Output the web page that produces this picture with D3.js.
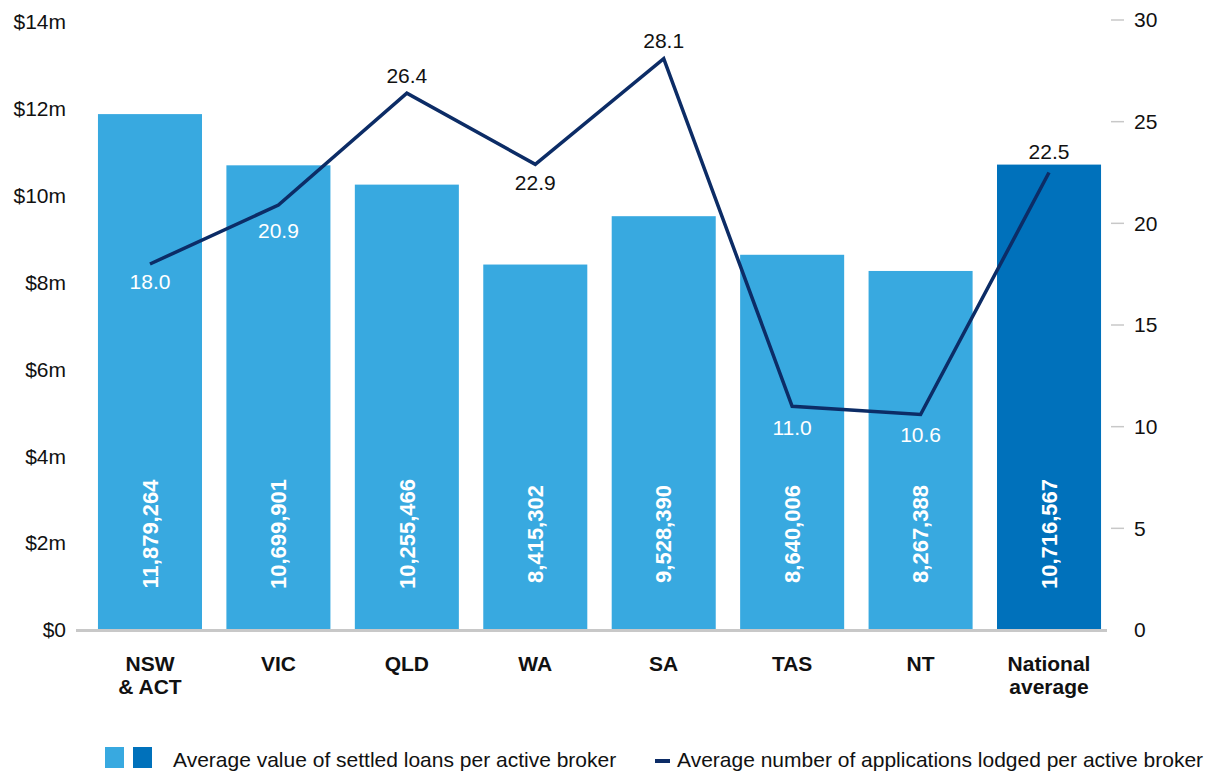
<!DOCTYPE html>
<html>
<head>
<meta charset="utf-8">
<script src="https://cdn.jsdelivr.net/npm/d3@7"></script>
<style>
  body { margin: 0; background: #fff; }
  svg { display: block; font-family: "Liberation Sans", Arial, sans-serif; }
</style>
</head>
<body>
<div id="graph"></div>
<script>
// chart data
var regions = [["NSW", "& ACT"], ["VIC"], ["QLD"], ["WA"], ["SA"], ["TAS"], ["NT"], ["National", "average"]];
var loanValues = [11879264, 10699901, 10255466, 8415302, 9528390, 8640006, 8267388, 10716567];
var applications = [18.0, 20.9, 26.4, 22.9, 28.1, 11.0, 10.6, 22.5];
var leftTicks = [0, 2e6, 4e6, 6e6, 8e6, 10e6, 12e6, 14e6];
var rightTicks = [0, 5, 10, 15, 20, 25, 30];
var legendLabels = ["Average value of settled loans per active broker", "Average number of applications lodged per active broker"];

var width = 1219;
var height = 774;
var lightBlue = "#38a9e0";
var darkBlue = "#0071bb";
var navy = "#0c2c66";
var fontSize = 21;

var svg = d3.select("#graph").
append("svg").
attr("width", width).
attr("height", height);

var keys = regions.map(function (r) {return r.join(" ");});

var x = d3.scaleBand().
domain(keys).
range([76, 1123]).
paddingInner(0.19).
paddingOuter(0.171);

var yLeft = d3.scaleLinear().domain([0, 14e6]).range([630, 22]);
var yRight = d3.scaleLinear().domain([0, 30]).range([630, 20]);

// left axis labels
svg.append("g").
selectAll("text").
data(leftTicks).
enter().
append("text").
attr("x", 66).
attr("y", function (d) {return yLeft(d);}).
attr("dy", "0.35em").
attr("text-anchor", "end").
attr("font-size", fontSize).
attr("fill", "#111").
text(function (d) {return "$" + d / 1e6 + (d === 0 ? "" : "m");});

// right axis ticks and labels
var rt = svg.append("g").
selectAll("g").
data(rightTicks).
enter().
append("g").
attr("transform", function (d) {return "translate(0," + yRight(d) + ")";});

rt.filter(function (d) {return d !== 0;}).
append("line").
attr("x1", 1111).
attr("x2", 1124).
attr("stroke", "#c8c8c8").
attr("stroke-width", 1.5);

rt.append("text").
attr("x", 1134).
attr("dy", "0.35em").
attr("font-size", fontSize).
attr("fill", "#111").
text(function (d) {return d;});

// bars
var bar = svg.append("g").
selectAll("g").
data(loanValues).
enter().
append("g");

bar.append("rect").
attr("x", function (d, i) {return x(keys[i]);}).
attr("y", function (d) {return yLeft(d);}).
attr("width", x.bandwidth()).
attr("height", function (d) {return yLeft(0) - yLeft(d);}).
attr("fill", function (d, i) {return i === loanValues.length - 1 ? darkBlue : lightBlue;});

bar.append("text").
attr("transform", function (d, i) {return "translate(" + (x(keys[i]) + x.bandwidth() / 2) + ",534) rotate(-90)";}).
attr("text-anchor", "middle").
attr("dy", "0.35em").
attr("font-size", 22).
attr("font-weight", "bold").
attr("fill", "#fff").
text(function (d) {return d3.format(",")(d);});

// baseline
svg.append("line").
attr("x1", 76).
attr("x2", 1107).
attr("y1", 630.5).
attr("y2", 630.5).
attr("stroke", "#c8c8c8").
attr("stroke-width", 3);

// category labels
svg.append("g").
selectAll("text").
data(regions).
enter().
append("text").
attr("x", function (d, i) {return x(keys[i]) + x.bandwidth() / 2;}).
attr("y", 671).
attr("text-anchor", "middle").
attr("font-size", fontSize).
attr("font-weight", "bold").
attr("fill", "#111").
selectAll("tspan").
data(function (d) {return d;}).
enter().
append("tspan").
attr("x", function () {return d3.select(this.parentNode).attr("x");}).
attr("dy", function (d, i) {return i === 0 ? 0 : 23;}).
text(function (d) {return d;});

// line
var line = d3.line().
x(function (d, i) {return x(keys[i]) + x.bandwidth() / 2;}).
y(function (d) {return yRight(d);});

svg.append("path").
datum(applications).
attr("d", line).
attr("fill", "none").
attr("stroke", navy).
attr("stroke-width", 3.5).
attr("stroke-linejoin", "miter");

// line value labels, offset above (negative) or below (positive) the point
var labelOffset = [18, 26, -18, 18, -18, 21, 20, -21];

svg.append("g").
selectAll("text").
data(applications).
enter().
append("text").
attr("x", function (d, i) {return x(keys[i]) + x.bandwidth() / 2;}).
attr("y", function (d, i) {return yRight(d) + labelOffset[i];}).
attr("dy", "0.35em").
attr("text-anchor", "middle").
attr("font-size", fontSize).
attr("fill", function (d, i) {
  var ly = yRight(d) + labelOffset[i];
  return ly - 8 > yLeft(loanValues[i]) ? "#fff" : "#111";
}).
text(function (d) {return d3.format(".1f")(d);});

// legend
var legend = svg.append("g");

legend.selectAll("rect").
data([lightBlue, darkBlue]).
enter().
append("rect").
attr("x", function (d, i) {return 105 + i * 28;}).
attr("y", 747).
attr("width", 19).
attr("height", 21).
attr("fill", function (d) {return d;});

legend.append("text").
attr("x", 173).
attr("y", 760).
attr("dy", "0.35em").
attr("font-size", fontSize).
attr("fill", "#111").
text(legendLabels[0]);

legend.append("line").
attr("x1", 655).
attr("x2", 670).
attr("y1", 761).
attr("y2", 761).
attr("stroke", navy).
attr("stroke-width", 4);

legend.append("text").
attr("x", 677).
attr("y", 760).
attr("dy", "0.35em").
attr("font-size", fontSize).
attr("fill", "#111").
text(legendLabels[1]);
</script>
</body>
</html>
